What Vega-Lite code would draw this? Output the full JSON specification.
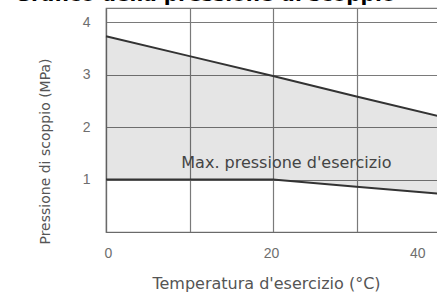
{
  "$schema": "https://vega.github.io/schema/vega-lite/v6.json",
  "autosize": "none",
  "width": 334,
  "height": 224,
  "padding": {"left": 106, "top": 8, "right": 0, "bottom": 70},
  "background": "white",
  "title": {
    "text": "Grafico della pressione di scoppio",
    "font": "DejaVu Sans",
    "fontSize": 20,
    "fontWeight": "bold",
    "color": "#000000",
    "anchor": "middle",
    "frame": "group",
    "baseline": "alphabetic",
    "offset": -3,
    "dy": 10,
    "dx": -68
  },
  "config": {
    "view": {"stroke": "#7a7a7a", "strokeWidth": 1.2},
    "axis": {
      "labelFont": "Liberation Sans",
      "titleFont": "DejaVu Sans",
      "labelColor": "#6e6e6e",
      "titleColor": "#555555",
      "labelFontSize": 14,
      "titleFontSize": 14,
      "titleFontWeight": "normal",
      "gridColor": "#7a7a7a",
      "gridWidth": 1.2,
      "gridOpacity": 1,
      "domainColor": "#6a6a6a",
      "domainWidth": 1.2,
      "ticks": false
    }
  },
  "datasets": {
    "curve": [
      {"t": 0, "scoppio": 3.73, "esercizio": 1.0},
      {"t": 10, "scoppio": 3.35, "esercizio": 1.0},
      {"t": 20, "scoppio": 2.97, "esercizio": 1.0},
      {"t": 30, "scoppio": 2.58, "esercizio": 0.86},
      {"t": 40, "scoppio": 2.2, "esercizio": 0.73}
    ],
    "note": [
      {"t": 21.6, "p": 1.31, "label": "Max. pressione d'esercizio"}
    ]
  },
  "layer": [
    {
      "data": {"name": "curve"},
      "mark": {"type": "area", "fill": "#000000", "fillOpacity": 0.1},
      "encoding": {
        "x": {
          "field": "t",
          "type": "quantitative",
          "scale": {"domain": [0, 40], "nice": false, "zero": false},
          "axis": {
            "title": "Temperatura d'esercizio (°C)",
            "titleFontSize": 16,
            "values": [0, 10, 20, 30, 40],
            "labelExpr": "datum.value % 20 == 0 ? datum.label : ''",
            "labelPadding": 14,
            "titlePadding": 15,
            "titleX": 160,
            "labelOffset": {"condition": {"test": "datum.value == 40", "value": -15}, "value": -2}
          }
        },
        "y": {
          "field": "scoppio",
          "type": "quantitative",
          "scale": {"domain": [0, 4.267], "nice": false},
          "axis": {
            "title": "Pressione di scoppio (MPa)",
            "values": [1, 2, 3, 4],
            "labelPadding": 16,
            "titlePadding": 30,
            "titleY": 143
          }
        },
        "y2": {"field": "esercizio"}
      }
    },
    {
      "data": {"name": "curve"},
      "mark": {"type": "line", "color": "#333333", "strokeWidth": 2},
      "encoding": {
        "x": {"field": "t", "type": "quantitative"},
        "y": {"field": "scoppio", "type": "quantitative"}
      }
    },
    {
      "data": {"name": "curve"},
      "mark": {"type": "line", "color": "#333333", "strokeWidth": 2},
      "encoding": {
        "x": {"field": "t", "type": "quantitative"},
        "y": {"field": "esercizio", "type": "quantitative"}
      }
    },
    {
      "data": {"name": "note"},
      "mark": {"type": "text", "font": "DejaVu Sans", "fontSize": 16, "color": "#444444", "align": "center", "baseline": "middle"},
      "encoding": {
        "x": {"field": "t", "type": "quantitative"},
        "y": {"field": "p", "type": "quantitative"},
        "text": {"field": "label"}
      }
    }
  ]
}
